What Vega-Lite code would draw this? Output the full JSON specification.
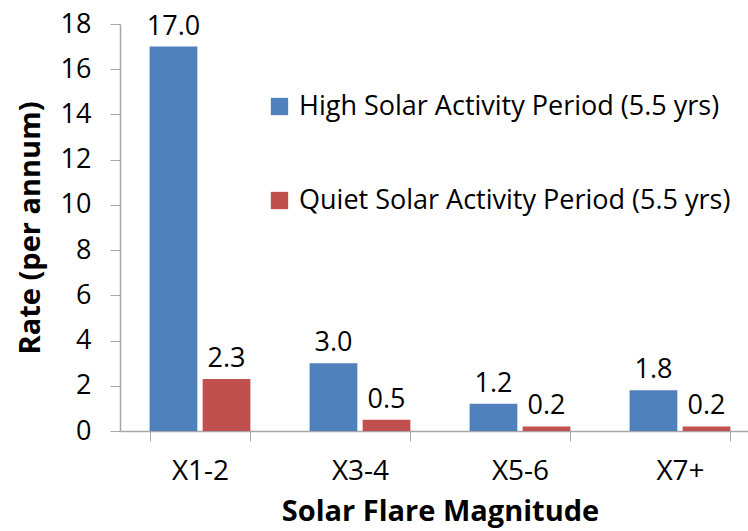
{
  "$schema": "https://vega.github.io/schema/vega-lite/v6.json",
  "width": 628,
  "height": 407,
  "autosize": {"type": "none"},
  "padding": {"left": 120, "top": 24, "right": 0, "bottom": 100},
  "background": "white",
  "config": {
    "view": {"stroke": null},
    "font": "Open Sans",
    "axis": {"grid": false, "domainColor": "#a6a6a6", "tickColor": "#a6a6a6", "labelColor": "#000000", "titleColor": "#000000"}
  },
  "data": {
    "values": [
      {"magnitude": "X1-2", "period": "High Solar Activity Period (5.5 yrs)", "rate": 17.0},
      {"magnitude": "X1-2", "period": "Quiet Solar Activity Period (5.5 yrs)", "rate": 2.3},
      {"magnitude": "X3-4", "period": "High Solar Activity Period (5.5 yrs)", "rate": 3.0},
      {"magnitude": "X3-4", "period": "Quiet Solar Activity Period (5.5 yrs)", "rate": 0.5},
      {"magnitude": "X5-6", "period": "High Solar Activity Period (5.5 yrs)", "rate": 1.2},
      {"magnitude": "X5-6", "period": "Quiet Solar Activity Period (5.5 yrs)", "rate": 0.2},
      {"magnitude": "X7+", "period": "High Solar Activity Period (5.5 yrs)", "rate": 1.8},
      {"magnitude": "X7+", "period": "Quiet Solar Activity Period (5.5 yrs)", "rate": 0.2}
    ]
  },
  "encoding": {
    "x": {
      "field": "magnitude",
      "type": "nominal",
      "sort": ["X1-2", "X3-4", "X5-6", "X7+"],
      "scale": {"range": [0, 640], "paddingInner": 0.37, "paddingOuter": 0.185},
      "axis": {
        "title": "Solar Flare Magnitude",
        "titleFontSize": 29,
        "titleFontWeight": "bold",
        "titlePadding": 12,
        "labelFontSize": 28,
        "labelFontWeight": "normal",
        "labelAngle": 0,
        "labelPadding": 16,
        "tickBand": "extent",
        "tickSize": 10,
        "domainWidth": 1.5
      }
    },
    "xOffset": {
      "field": "period",
      "type": "nominal",
      "scale": {"paddingInner": 0.1, "paddingOuter": 0}
    },
    "y": {
      "field": "rate",
      "type": "quantitative",
      "scale": {"domain": [0, 18], "nice": false},
      "axis": {
        "title": "Rate (per annum)",
        "titleFontSize": 29,
        "titleFontWeight": "bold",
        "titlePadding": 15,
        "values": [0, 2, 4, 6, 8, 10, 12, 14, 16, 18],
        "labelFontSize": 27,
        "labelPadding": 19,
        "tickSize": 10,
        "domainWidth": 1.5
      }
    }
  },
  "layer": [
    {
      "mark": {"type": "bar"},
      "encoding": {
        "color": {
          "field": "period",
          "type": "nominal",
          "scale": {
            "domain": ["High Solar Activity Period (5.5 yrs)", "Quiet Solar Activity Period (5.5 yrs)"],
            "range": ["#4F81BD", "#C0504D"]
          },
          "legend": {
            "title": null,
            "orient": "none",
            "legendX": 146,
            "legendY": 69,
            "symbolType": "square",
            "symbolSize": 300,
            "symbolStrokeWidth": 0,
            "labelFontSize": 27,
            "labelLimit": 0,
            "labelOffset": 6,
            "rowPadding": 66
          }
        }
      }
    },
    {
      "mark": {"type": "text", "baseline": "bottom", "dy": -6, "fontSize": 27, "color": "#000000"},
      "encoding": {
        "text": {"field": "rate", "type": "quantitative", "format": ".1f"}
      }
    }
  ]
}
